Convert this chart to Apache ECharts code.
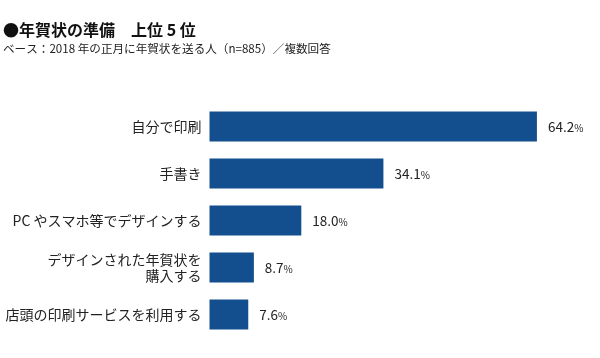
<!DOCTYPE html>
<html><head><meta charset="utf-8">
<script src="https://cdn.jsdelivr.net/npm/echarts@6/dist/echarts.min.js"></script>
<style>html,body{margin:0;padding:0;background:#fff}#c{width:600px;height:358px}</style>
</head><body><div id="c"></div>
<script>
const categories = ['自分で印刷', '手書き', 'PC やスマホ等でデザインする', 'デザインされた年賀状を\n購入する', '店頭の印刷サービスを利用する'];
const values = [64.2, 34.1, 18.0, 8.7, 7.6];
const titleText = '●年賀状の準備　上位 5 位';
const subText = 'ベース：2018 年の正月に年賀状を送る人（n=885）／複数回答';
const FONT = '"Noto Sans CJK JP", "Noto Sans", sans-serif';
const chart = echarts.init(document.getElementById('c'), null, {renderer: 'canvas'});
chart.setOption({
  animation: false,
  title: {
    text: titleText, subtext: subText, left: -2, top: 17, itemGap: 5,
    textStyle: {fontFamily: FONT, fontSize: 16, fontWeight: 'bold', color: '#111'},
    subtextStyle: {fontFamily: FONT, fontSize: 11.6, color: '#222'}
  },
  grid: {left: 209.5, right: 33.5, top: 103, height: 235, containLabel: false},
  xAxis: {type: 'value', min: 0, max: 70, show: false},
  yAxis: {
    type: 'category', data: categories, inverse: true,
    axisLine: {show: false}, axisTick: {show: false},
    axisLabel: {margin: 8, fontFamily: FONT, fontSize: 14, color: '#222', lineHeight: 16, align: 'right'}
  },
  series: [{
    type: 'bar', data: values, barWidth: 30,
    itemStyle: {color: '#134e8e'},
    label: {
      show: true, position: 'right', distance: 11,
      formatter: p => '{v|' + p.value.toFixed(1) + '}{p|%}',
      rich: {
        v: {fontFamily: FONT, fontSize: 13.5, color: '#222'},
        p: {fontFamily: FONT, fontSize: 10, color: '#222', padding: [3, 0, 0, 0]}
      }
    }
  }]
});
</script></body></html>
